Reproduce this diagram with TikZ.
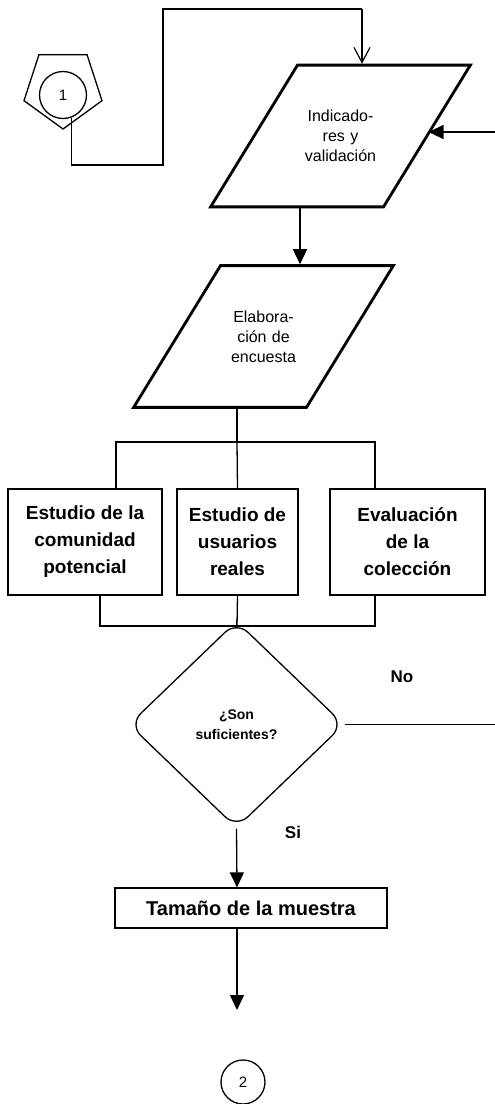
\documentclass[tikz,border=0pt]{standalone}
\usepackage{fontspec}
\setmainfont{Liberation Sans}
\usetikzlibrary{shapes.geometric,arrows.meta}
\begin{document}
\begin{tikzpicture}[x=1pt,y=-1pt,line width=1.3pt]
            \tikzstyle{paral}=[trapezium,draw,line width=2.8pt,trapezium left angle=58.5,trapezium right angle=121.5,text width=82pt,inner xsep=2pt,inner ysep=45pt,align=center,font=\fontsize{16}{20}\selectfont]
            \tikzstyle{caja}=[rectangle,draw,minimum height=106pt,inner sep=0pt,align=center,font=\bfseries\fontsize{19}{27}\selectfont]
            \tikzstyle{rombo}=[diamond,draw,rounded corners=16pt,minimum width=215pt,minimum height=207pt,inner sep=0pt,align=center,font=\bfseries\fontsize{14}{20}\selectfont]
            \tikzstyle{conector}=[circle,draw,minimum size=47pt,inner sep=0pt,font=\fontsize{15}{15}\selectfont]
            \tikzstyle{lleno}=[-{Triangle[width=14pt,length=15pt]}]
            \tikzstyle{abierto}=[-{Straight Barb[width=16pt,length=15pt,line width=1.2pt]}]
            \tikzstyle{rotulo}=[font=\bfseries\fontsize{17}{17}\selectfont]
            \useasboundingbox (0,0) rectangle (495,1104);
            \node[regular polygon,regular polygon sides=5,shape border rotate=180,draw,minimum size=82pt,inner sep=0pt] (pent) at (63,88) {};
            \node[conector] (c1) at (63,95) {1};
            \node[paral] (p1) at (340.5,136) {Indicado-\\res y\\validación};
            \node[paral] (p2) at (263.5,336.5) {Elabora-\\ción de\\encuesta};
            \node[caja,minimum width=154pt] (e1) at (85,542) {Estudio de la\\comunidad\\potencial};
            \node[caja,minimum width=121pt] (e2) at (237.5,542) {Estudio de\\usuarios\\reales};
            \node[caja,minimum width=155pt] (e3) at (407.5,542) {Evaluación\\de la\\colección};
            \node[rombo] (d) at (236.5,724.5) {¿Son\\suficientes?};
            \node[rectangle,draw,minimum width=272pt,minimum height=40pt,font=\bfseries\fontsize{20}{20}\selectfont] (t) at (251,908) {Tamaño de la muestra};
            \node[conector,minimum size=44pt] (c2) at (243,1082) {2};
            \node[rotulo] (no) at (402,677) {No};
            \node[rotulo] (si) at (293,832) {Si};
            \coordinate (k1) at (163,165);
            \coordinate (k2) at (362,9);
            \coordinate (x300) at (300,0);
            \coordinate (eje) at (237,0);
            \coordinate (r1) at (495,132);
            \coordinate (bl) at (116,442);
            \coordinate (bm) at (237,442);
            \coordinate (br) at (375,442);
            \coordinate (dl) at (100,626);
            \coordinate (dm) at (237,626);
            \coordinate (dr) at (375,626);
            \coordinate (fin) at (237,1010);
            \draw (c1.-69) |- (k1) -- (k1 |- k2) -- (k2);
            \draw[abierto] (k2) -- (k2 |- p1.north);
            \draw[lleno] (r1) -- (r1 -| p1.east);
            \draw[lleno] (x300 |- p1.south) -- (x300 |- p2.north);
            \draw (eje |- p2.south) -- (bm);
            \draw (bl |- e1.north) -- (bl) -- (br) -- (br |- e3.north);
            \draw (bm) -- (e2.north);
            \draw (dl |- e1.south) -- (dl) -- (dr) -- (dr |- e3.south);
            \draw (e2.south) -- (dm) -- (d.north);
            \draw (d.east) -- (d.east -| r1);
            \draw[lleno] (d.south) -- (eje |- t.north);
            \draw[lleno] (eje |- t.south) -- (fin);
        \end{tikzpicture}
\end{document}
